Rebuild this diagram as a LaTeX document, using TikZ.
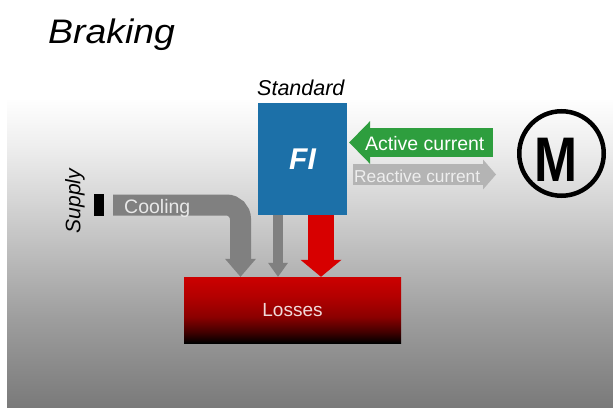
\documentclass[tikz,border=0pt]{standalone}
\usepackage{fontspec}
\setmainfont{Liberation Sans}
\usetikzlibrary{arrows.meta}

\definecolor{fiblue}{RGB}{28,112,168}
\definecolor{actgreen}{RGB}{46,158,62}
\definecolor{reagray}{RGB}{180,180,180}
\definecolor{reatext}{RGB}{238,238,238}
\definecolor{coolgray}{RGB}{128,128,128}
\definecolor{cooltext}{RGB}{232,232,232}
\definecolor{heatred}{RGB}{215,0,0}
\definecolor{losstext}{RGB}{240,218,218}
\definecolor{bgdark}{RGB}{122,122,122}
\definecolor{bgmid}{RGB}{158,158,158}
\definecolor{bglight}{RGB}{212,212,212}
\definecolor{bgpale}{RGB}{238,238,238}

% shadings are mapped on the middle 50bp
\pgfdeclareverticalshading{backshade}{100bp}{color(0bp)=(bgdark); color(25bp)=(bgdark); color(36bp)=(bgmid); color(50bp)=(bglight); color(57bp)=(bgpale); color(63bp)=(white); color(100bp)=(white)}
\pgfdeclareverticalshading{lossshade}{100bp}{color(0bp)=(black); color(25bp)=(black); color(33bp)=(red!25!black); color(45bp)=(red!55!black); color(60bp)=(red!70!black); color(75bp)=(red!80!black); color(100bp)=(red!80!black)}

\tikzset{
    sz/.style={inner sep=0pt, font=\fontsize{#1}{#1}\selectfont},
    activearrow/.style={draw=actgreen, line width=29pt, -{Triangle[width=43pt, length=21pt, line width=0pt]}},
    reactivearrow/.style={draw=reagray, line width=21pt, -{Triangle[width=30pt, length=13pt, line width=0pt]}},
    coolarrow/.style={draw=coolgray, line width=21pt, rounded corners=14pt, -{Triangle[width=31pt, length=18pt, line width=0pt]}},
    thinarrow/.style={draw=coolgray, line width=10pt, -{Triangle[width=20pt, length=14pt, line width=0pt]}},
    heatarrow/.style={draw=heatred, line width=26pt, -{Triangle[width=41pt, length=17pt, line width=0pt]}}
}

\begin{document}
\begin{tikzpicture}[x=1pt, y=-1pt]
            % the frame
            \useasboundingbox (0,0) rectangle (613,407);
            \shade[shading=backshade] (7,0) rectangle (613,407);

            % the texts
            \node[sz=34, anchor=base west] (title) at (48,43) {\scalebox{1.1}[1]{\itshape Braking}};
            \node[sz=21.5, anchor=base west] (std) at (257,95) {\itshape Standard};
            \node[sz=21, rotate=90] (supply) at (75,201) {\itshape Supply};

            % the body
            \node[fill=fiblue, minimum width=89pt, minimum height=112pt, sz=30, text=white] (fi) at (302.5,159) {\bfseries\itshape FI};
            \node[shading=lossshade, minimum width=217pt, minimum height=66pt, sz=19, text=losstext] (losses) at (292.5,310) {Losses};
            \node[fill=black, minimum width=10pt, minimum height=22pt, inner sep=0pt] (stub) at (99,205) {};
            \node[draw, circle, line width=4.5pt, minimum size=84.5pt, inner sep=0pt] (motor) at (561.5,153.5) {};
            \node[sz=63] (mlabel) at ([xshift=-5.5pt, yshift=-6pt]motor.center) {\bfseries\scalebox{0.82}[1]{M}};

            % arrows
            \coordinate (active) at (493,142.5);
            \coordinate (reactive) at (353,174.5);
            \coordinate (bend) at (240.5,205);

            \draw[activearrow, shorten >=2pt] (active) -- (active -| fi.east);
            \draw[reactivearrow, shorten >=21pt] (reactive) -- (reactive -| motor.west);
            \draw[coolarrow, shorten <=9pt] (stub.east) -- (bend) -- (bend |- losses.north);
            \draw[thinarrow] ([xshift=-24.5pt]fi.south) -- ([xshift=-24.5pt]fi.south |- losses.north);
            \draw[heatarrow] ([xshift=18.5pt]fi.south) -- ([xshift=18.5pt]fi.south |- losses.north);

            \node[sz=19.5, text=white, anchor=base west] (acttxt) at (365,150) {Active current};
            \node[sz=17.3, text=reatext, anchor=base west] (reatxt) at (354,182) {Reactive current};
            \node[sz=19.5, text=cooltext, anchor=base west] (cooltxt) at (124,213) {Cooling};

        \end{tikzpicture}
\end{document}
